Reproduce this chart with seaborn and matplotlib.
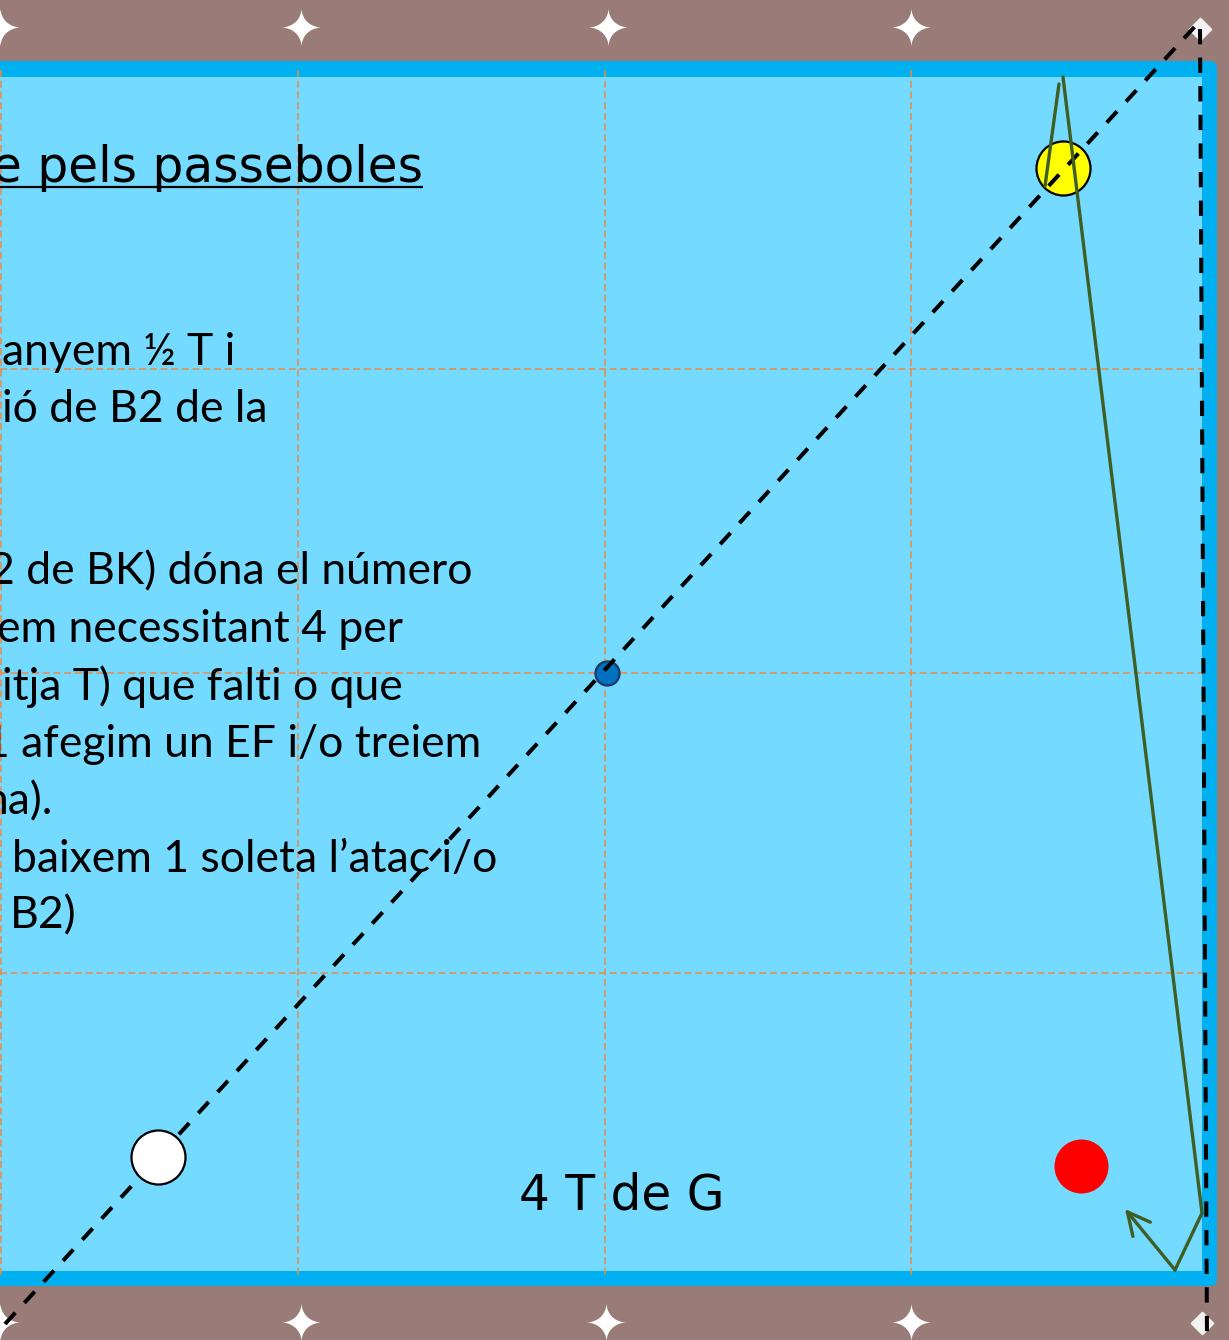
import numpy as np
import matplotlib
matplotlib.use("Agg")
import matplotlib.pyplot as plt
from matplotlib.path import Path
from matplotlib.patches import FancyBboxPatch
import seaborn as sns

# ---------------- data (canvas pixel units, y grows downward) ----------------
W, H = 1229, 1340

rail_box = [-60, 61, 1217, 1286]        # x0, y0, x1, y1 of the cushion
cloth_box = [-60, 77, 1202, 1271]       # x0, y0, x1, y1 of the cloth

grid_x = [1, 298, 605, 911]
grid_x_span = [70, 1277]
grid_y = [369, 673, 973]
grid_y_span = [0, 1202]

star_x = [0, 301, 608, 911, 0, 301, 606, 911]
star_y = [27, 27, 27, 27, 1322, 1322, 1322, 1322]

corner_x = [1200, 1202]
corner_y = [29, 1323]

aim_x = [5, 1199]
aim_y = [1324, 22]
rail_ref_x = [1200, 1207]
rail_ref_y = [29, 1340]

path_a_x = [1045, 1059]
path_a_y = [186, 84]
path_b_x = [1063, 1202, 1175, 1125]
path_b_y = [77, 1213, 1270, 1209]

ball_names = ["blanca", "groga", "vermella"]
ball_x = [158, 1063, 1081]
ball_y = [1157, 168, 1166]
ball_colors = ["#FFFFFF", "#FFFF00", "#FF0000"]

mark_x = [607]
mark_y = [673]

title_text = "e pels passeboles"
title_pos = (-8, 182)
title_underline = [0, 423, 187]

body_lines = [
    "anyem \u00bd T i",
    "i\u00f3 de B2 de la",
    "2 de BK) d\u00f3na el n\u00famero",
    "em necessitant 4 per",
    "itja T) que falti o que",
    "1 afegim un EF i/o treiem",
    "na).",
    "baixem 1 soleta l\u2019atac i/o",
    "B2)",
]
body_x = [2, 2, -11, -3, 2, -16, -16, 12, 10]
body_y = [365, 422, 584, 642, 700, 757, 814, 872, 928]

label_text = "4 T de G"
label_pos = (622, 1209)

# ---------------- colours ----------------
BG = "#997C78"
RAIL = "#00B0F0"
CLOTH = "#74DAFF"
GRID = "#E88A48"
GREEN = "#3F5E24"

# ---------------- figure ----------------
sns.set_style("white")
fig = plt.figure(figsize=(W / 100, H / 100), dpi=100, facecolor=BG)
ax = fig.add_axes([0, 0, 1, 1])
ax.set_xlim(0, W)
ax.set_ylim(H, 0)
ax.set_facecolor(BG)
ax.axis("off")

rail = FancyBboxPatch((rail_box[0], rail_box[1]), rail_box[2] - rail_box[0],
                      rail_box[3] - rail_box[1],
                      boxstyle="round,pad=0,rounding_size=7",
                      facecolor=RAIL, edgecolor="none", zorder=1)
ax.add_patch(rail)
cl = FancyBboxPatch((cloth_box[0], cloth_box[1]), cloth_box[2] - cloth_box[0],
                    cloth_box[3] - cloth_box[1],
                    boxstyle="square,pad=0", facecolor=CLOTH,
                    edgecolor="none", zorder=2)
ax.add_patch(cl)

for gx in grid_x:
    ax.plot([gx, gx], grid_x_span, color=GRID, lw=1.1,
            linestyle=(0, (4.6, 2.4)), zorder=3)
for gy in grid_y:
    ax.plot(grid_y_span, [gy, gy], color=GRID, lw=1.1,
            linestyle=(0, (4.6, 2.4)), zorder=3)

# 4-point star marker
t = np.linspace(0, 2 * np.pi, 161)
p = 3.6
sx = np.sign(np.cos(t)) * np.abs(np.cos(t)) ** p
sy = np.sign(np.sin(t)) * np.abs(np.sin(t)) ** p * 0.95
star = Path(np.column_stack([sx, sy]), closed=True)
sns.scatterplot(x=star_x, y=star_y, marker=star, s=860, color="white",
                linewidth=0, ax=ax, zorder=4)

sns.scatterplot(x=corner_x, y=corner_y, marker="D", s=120, color="#F2F2F2",
                edgecolor="#F2F2F2", linewidth=1.5, ax=ax, zorder=4)

# text
ax.text(title_pos[0], title_pos[1], title_text, fontsize=35,
        family=["DejaVu Sans"], color="black", va="baseline", ha="left",
        zorder=5)
ax.plot(title_underline[:2], [title_underline[2]] * 2, color="black",
        lw=1.6, solid_capstyle="butt", zorder=5)
for s_, x_, y_ in zip(body_lines, body_x, body_y):
    ax.text(x_, y_, s_, fontsize=32, family=["Lato", "DejaVu Sans"],
            color="black", va="baseline", ha="left", zorder=5)
ax.text(label_pos[0], label_pos[1], label_text, fontsize=35,
        family=["DejaVu Sans"], color="black", va="baseline", ha="center",
        zorder=5)

# yellow ball and blue mark below the aiming line
sns.scatterplot(x=[ball_x[1]], y=[ball_y[1]], s=1513, color=ball_colors[1],
                edgecolor="black", linewidth=1.6, ax=ax, zorder=6)
sns.scatterplot(x=mark_x, y=mark_y, s=300, color="#0070C0",
                edgecolor="#1F3864", linewidth=1.6, ax=ax, zorder=6)

# aiming lines
ax.plot(aim_x, aim_y, color="black", lw=2.9, linestyle=(0, (3.8, 3.3)),
        zorder=7)
ax.plot(rail_ref_x, rail_ref_y, color="black", lw=2.9,
        linestyle=(0, (3.8, 3.3)), zorder=7)

# ball path
ax.plot(path_a_x, path_a_y, color=GREEN, lw=2.4, zorder=8)
ax.plot(path_b_x[:3], path_b_y[:3], color=GREEN, lw=2.4, zorder=8,
        solid_joinstyle="miter")
ax.annotate("", xy=(path_b_x[3], path_b_y[3]),
            xytext=(path_b_x[2], path_b_y[2]),
            arrowprops=dict(arrowstyle="->,head_length=0.9,head_width=0.45",
                            color=GREEN, lw=2.4, shrinkA=0, shrinkB=0,
                            mutation_scale=18),
            zorder=8)

# white and red balls on top
sns.scatterplot(x=[ball_x[0]], y=[ball_y[0]], s=1513, color=ball_colors[0],
                edgecolor="black", linewidth=1.6, ax=ax, zorder=9)
sns.scatterplot(x=[ball_x[2]], y=[ball_y[2]], s=1513, color=ball_colors[2],
                linewidth=0, ax=ax, zorder=9)

ax.set_xlim(0, W)
ax.set_ylim(H, 0)
fig.savefig("out.png", dpi=100, facecolor=BG)
